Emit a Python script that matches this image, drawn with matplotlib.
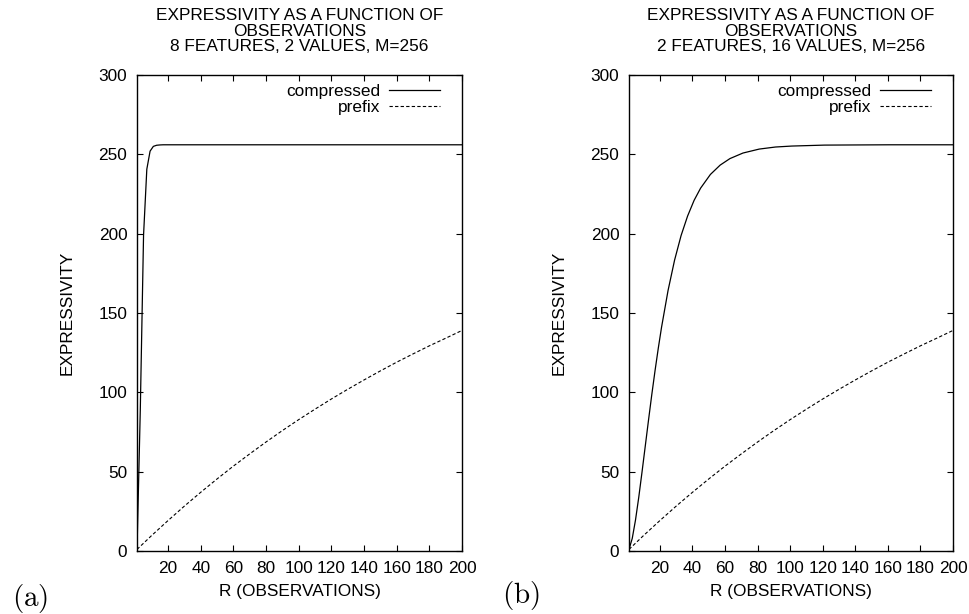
import matplotlib
matplotlib.use('Agg')
import matplotlib.pyplot as plt

# values
r_a = [1, 3, 5, 7, 9, 11, 13, 15, 17, 20, 40, 60, 80, 100, 120, 140, 160, 180, 200]
compressed_a = [1.0, 88.6, 199.0, 240.6, 252.0, 255.0, 255.7, 255.9, 256.0, 256.0,
                256.0, 256.0, 256.0, 256.0, 256.0, 256.0, 256.0, 256.0, 256.0]

r_b = [1, 3, 5, 7, 9, 11, 13, 15, 17, 19, 21, 25, 29, 33, 37, 41, 45, 51, 57, 63,
       71, 81, 91, 101, 121, 141, 161, 181, 200]
compressed_b = [1.0, 7.9, 19.5, 33.8, 49.7, 66.1, 82.5, 98.5, 113.6, 127.8, 141.0,
                164.2, 183.3, 198.8, 211.1, 221.0, 228.7, 237.3, 243.2, 247.3,
                250.8, 253.3, 254.6, 255.2, 255.8, 255.9, 256.0, 256.0, 256.0]

r_prefix = [1, 10, 20, 30, 40, 50, 60, 70, 80, 90, 100, 110, 120, 130, 140, 150,
            160, 170, 180, 190, 200]
prefix = [1.0, 9.8, 19.2, 28.3, 37.0, 45.4, 53.5, 61.2, 68.7, 75.9, 82.8, 89.4,
          95.8, 101.9, 107.8, 113.5, 119.0, 124.2, 129.3, 134.1, 139.0]

titles = ['EXPRESSIVITY AS A FUNCTION OF\nOBSERVATIONS\n8 FEATURES, 2 VALUES, M=256',
          'EXPRESSIVITY AS A FUNCTION OF\nOBSERVATIONS\n2 FEATURES, 16 VALUES, M=256']
panel_labels = ['(a)', '(b)']
x_ticks = [20, 40, 60, 80, 100, 120, 140, 160, 180, 200]
y_ticks = [0, 50, 100, 150, 200, 250, 300]

plt.rcParams['font.family'] = ['Liberation Sans', 'DejaVu Sans']
plt.rcParams['mathtext.fontset'] = 'cm'
fs = 12.4

fig = plt.figure(figsize=(9.69, 6.14), dpi=100)
ax_a = fig.add_axes([0.1414, 0.1026, 0.3354, 0.7753])
ax_b = fig.add_axes([0.6491, 0.1026, 0.3344, 0.7753])

for ax, rc, comp, title in [(ax_a, r_a, compressed_a, titles[0]),
                            (ax_b, r_b, compressed_b, titles[1])]:
    ax.plot(rc, comp, color='black', lw=0.9, label='compressed')
    ax.plot(r_prefix, prefix, color='black', lw=0.8, dashes=(3, 2), label='prefix')
    ax.set_xlim(1, 200)
    ax.set_ylim(0, 300)
    ax.set_xticks(x_ticks)
    ax.set_yticks(y_ticks)
    ax.tick_params(direction='in', length=4, width=0.8, top=True, right=True,
                   labelsize=fs, pad=7)
    for s in ax.spines.values():
        s.set_linewidth(1.0)
    ax.set_title(title, fontsize=fs, linespacing=1.07, pad=17)
    ax.set_xlabel('R (OBSERVATIONS)', fontsize=fs, labelpad=6)
    ax.set_ylabel('EXPRESSIVITY', fontsize=fs, labelpad=17)
    ax.legend(loc='upper right', frameon=False, markerfirst=False, fontsize=fs,
              handlelength=3.0, handletextpad=0.5, labelspacing=0.05,
              borderaxespad=0.1, bbox_to_anchor=(0.96, 1.0))

# panel letters
fig.text(12 / 969, -0.002, r'$\mathrm{' + panel_labels[0] + '}$', fontsize=21,
         ha='left', va='bottom')
fig.text(502 / 969, 0.003, r'$\mathrm{' + panel_labels[1] + '}$', fontsize=21,
         ha='left', va='bottom')

fig.savefig('out.png', dpi=100)
